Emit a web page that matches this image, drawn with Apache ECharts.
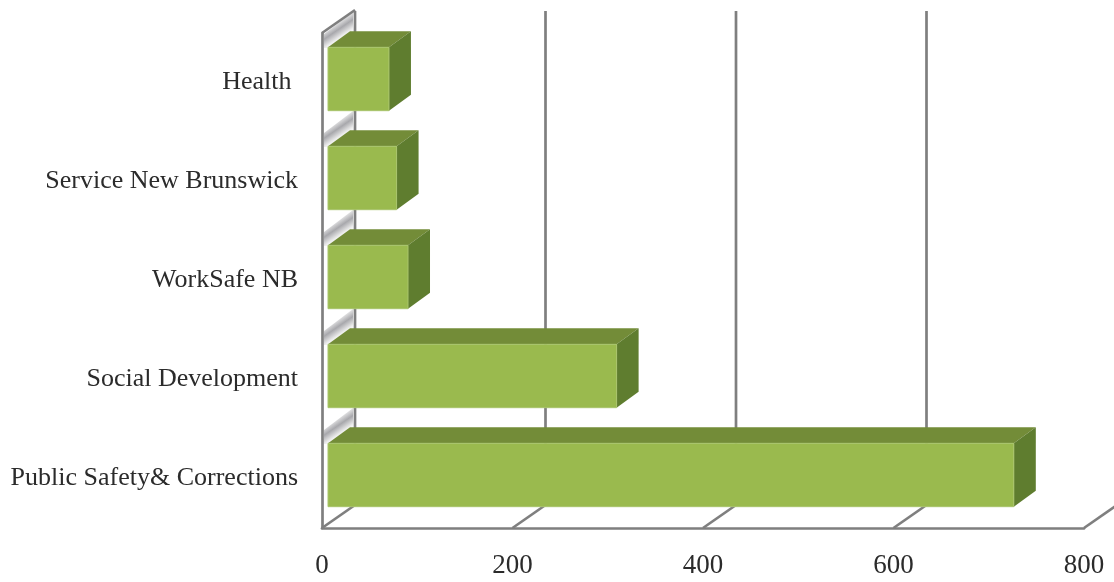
<!DOCTYPE html>
<html>
<head>
<meta charset="utf-8">
<style>html,body{margin:0;padding:0;background:#fff}#chart{width:1114px;height:582px}</style>
<script src="https://cdn.jsdelivr.net/npm/echarts@6/dist/echarts.min.js"></script>
</head>
<body>
<div id="chart"></div>
<script>
const categories = ['Health ', 'Service New Brunswick', 'WorkSafe NB', 'Social Development', 'Public Safety& Corrections'];
const employees = [64, 72, 84, 303, 720];
const axisTicks = [0, 200, 400, 600, 800];

// Oblique projection used for the pseudo-3D box
const WALL_DEPTH = [33, -23];
const BAR_INSET = [6, -3.5];
const BAR_DEPTH = [22, -16];
const LINE = '#7f7f7f';
const LINE_WIDTH = 2.7;
const FONT = '"Liberation Serif", serif';

function renderGrid(params, api) {
  const g = params.coordSys;
  const value = api.value(0);
  const x = api.coord([value, 0])[0];
  const bottom = g.y + g.height;
  const top = g.y;
  const bx = x + WALL_DEPTH[0];
  const children = [];
  const lineStyle = { stroke: LINE, lineWidth: LINE_WIDTH, fill: null };
  children.push({ type: 'line', shape: { x1: x, y1: bottom, x2: bx, y2: bottom + WALL_DEPTH[1] }, style: lineStyle });
  children.push({ type: 'line', shape: { x1: bx, y1: top + WALL_DEPTH[1] + 1, x2: bx, y2: bottom + WALL_DEPTH[1] }, style: lineStyle });
  if (value === 0) {
    children.push({ type: 'line', shape: { x1: x, y1: top, x2: bx, y2: top + WALL_DEPTH[1] }, style: lineStyle });
  }
  return { type: 'group', children };
}

// Soft diagonal wall shading visible in the gaps above each bar
function renderShade(params, api) {
  const cat = api.value(0);
  const pt = api.coord([0, cat]);
  const x = pt[0];
  const t = pt[1] - api.size([0, 1])[1] / 2;
  return {
    type: 'polygon',
    shape: { points: [[x + 2, t + 1], [x + WALL_DEPTH[0] - 2, t + WALL_DEPTH[1] + 2], [x + WALL_DEPTH[0] - 2, t + 15], [x + 2, t + 15]] },
    style: {
      fill: {
        type: 'linear', x: 0.25, y: 0.1, x2: 0.77, y2: 0.71,
        colorStops: [
          { offset: 0, color: '#ffffff' },
          { offset: 0.3, color: '#f0f0f0' },
          { offset: 0.58, color: '#a8a8ac' },
          { offset: 0.85, color: '#ececec' },
          { offset: 1, color: '#ffffff' }
        ]
      }
    }
  };
}

function renderBar(params, api) {
  const value = api.value(0);
  const cat = api.value(1);
  const start = api.coord([0, cat]);
  const end = api.coord([value, cat]);
  const h = api.size([0, 1])[1] * 0.64;
  const x0 = start[0] + BAR_INSET[0];
  const x1 = end[0] + BAR_INSET[0];
  const y0 = start[1] + BAR_INSET[1] - h / 2;
  const y1 = y0 + h;
  const dx = BAR_DEPTH[0], dy = BAR_DEPTH[1];
  return {
    type: 'group',
    children: [
      { type: 'polygon', shape: { points: [[x0, y0], [x0 + dx, y0 + dy], [x1 + dx, y0 + dy], [x1, y0]] }, style: { fill: '#738c38' } },
      { type: 'polygon', shape: { points: [[x1, y0], [x1 + dx, y0 + dy], [x1 + dx, y1 + dy], [x1, y1]] }, style: { fill: '#5f7d2f' } },
      { type: 'rect', shape: { x: x0, y: y0, width: x1 - x0, height: h }, style: { fill: '#9aba4e', stroke: '#a9c46c', lineWidth: 1 } }
    ]
  };
}

const chart = echarts.init(document.getElementById('chart'), null, { renderer: 'canvas' });
chart.setOption({
  animation: false,
  backgroundColor: '#fff',
  grid: { left: 322, top: 33, width: 762, height: 495, containLabel: false },
  xAxis: {
    type: 'value', min: 0, max: 800, interval: 200,
    splitLine: { show: false },
    axisTick: { show: false },
    axisLine: { show: true, onZero: false, lineStyle: { color: LINE, width: LINE_WIDTH } },
    axisLabel: { margin: 24, color: '#2b2b2b', fontFamily: FONT, fontSize: 27, showMaxLabel: true, showMinLabel: true, hideOverlap: false }
  },
  yAxis: {
    type: 'category', inverse: true, data: categories,
    axisTick: { show: false },
    axisLine: { show: true, lineStyle: { color: LINE, width: LINE_WIDTH } },
    axisLabel: { margin: 24, color: '#2b2b2b', fontFamily: FONT, fontSize: 26, padding: [2, 0, 0, 0] }
  },
  series: [
    { type: 'custom', renderItem: renderShade, clip: false, silent: true, z: 1, encode: { y: 0 }, data: categories.map((c, i) => [i]) },
    { type: 'custom', renderItem: renderGrid, clip: false, silent: true, z: 2, encode: { x: 0 }, data: axisTicks.map(v => [v]) },
    { type: 'custom', renderItem: renderBar, clip: false, silent: true, z: 3, encode: { x: 0, y: 1 }, data: employees.map((v, i) => [v, i]) }
  ]
});
</script>
</body>
</html>
